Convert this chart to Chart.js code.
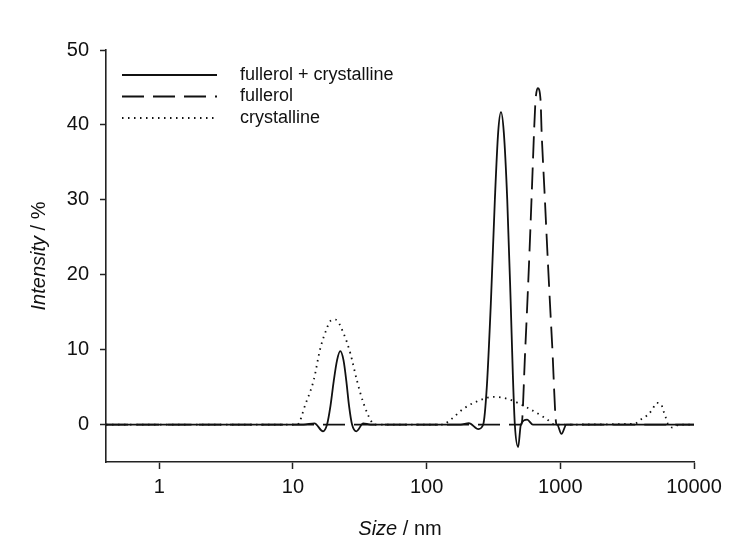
<!DOCTYPE html>
<html>
<head>
<meta charset="utf-8">
<title>Size distribution</title>
<script src="https://cdn.jsdelivr.net/npm/chart.js@4.4.1/dist/chart.umd.min.js"></script>
<style>
  html, body { margin: 0; padding: 0; background: #fff; }
  #wrap { width: 750px; height: 556px; }
</style>
</head>
<body>
<div id="wrap"><canvas id="chart" width="750" height="556"></canvas></div>
<script>
// Values (size in nm, intensity in %)
const mixSize = [0.4, 12, 14.5, 16.8, 18, 19.1, 20.2, 21.4, 22.6, 23.9, 25.1, 26.3, 27.7, 29.8, 33.6, 38,
    180, 207, 244, 265, 282, 303, 324, 343, 360, 378, 401, 425, 442, 457, 484, 507, 565, 623, 946, 1020, 1112, 10000];
const mixIntensity = [0, 0, 0.15, -0.9, 0, 2.5, 5.8, 8.6, 9.8, 8.6, 5.8, 2.5, 0, -0.9, 0.15, 0,
    0, 0.2, -0.6, 0, 5, 16.6, 30, 39, 41.7, 39, 30, 16.6, 6.5, 0, -3.0, 0, 0.65, 0, 0, -1.25, 0, 0];

const fullerolSize = [0.4, 513, 545, 582, 615, 637, 653, 679, 712, 724, 760, 811, 870, 937, 10000];
const fullerolIntensity = [0, 0, 9.5, 21, 32, 39.3, 43.3, 44.9, 43.3, 39.3, 31.5, 21, 10.5, 0, 0];

const crystSize = [0.4, 10.8, 12.4, 14.3, 16.0, 18.0, 19.0, 20.8, 23.9, 26.9, 30.1, 33.8, 39.0, 41,
    130, 155, 188, 273, 315, 408, 559, 789, 910,
    3600, 3990, 4480, 4880, 5230, 5690, 5890, 6130, 6370, 6950, 7800, 10000];
const crystIntensity = [0, 0, 2.7, 5.9, 10.1, 12.9, 13.8, 14.0, 12.2, 9.5, 5.9, 2.8, 0.3, 0,
    0, 0.8, 2.1, 3.5, 3.7, 3.4, 2.3, 0.75, 0,
    0.1, 0.67, 1.25, 2.0, 2.9, 2.7, 1.9, 1.0, 0.1, -0.4, 0, 0];

const seriesLabels = ['fullerol + crystalline', 'fullerol', 'crystalline'];
const xTicks = [1, 10, 100, 1000, 10000];
const yTicks = [0, 10, 20, 30, 40, 50];

const FONT = '"Liberation Sans", Arial, Helvetica, sans-serif';
const INK = '#111';
const AXIS = '#222';

function toPoints(xs, ys) {
    return xs.map(function (x, i) { return { x: x, y: ys[i] }; });
}

function lineSet(label, xs, ys, dash) {
    return {
        label: label,
        data: toPoints(xs, ys),
        borderColor: INK,
        borderWidth: 1.8,
        borderDash: dash,
        pointRadius: 0,
        fill: false,
        cubicInterpolationMode: 'monotone'
    };
}

// draw a string made of italic / upright parts, centred on x
function drawMixed(ctx, parts, x, y, size) {
    let total = 0;
    parts.forEach(function (p) {
        ctx.font = p[0] + ' ' + size + 'px ' + FONT;
        total += ctx.measureText(p[1]).width;
    });
    let cx = x - total / 2;
    parts.forEach(function (p) {
        ctx.font = p[0] + ' ' + size + 'px ' + FONT;
        ctx.fillText(p[1], cx, y);
        cx += ctx.measureText(p[1]).width;
    });
}

const decorations = {
    id: 'decorations',
    afterDraw: function (chart) {
        const ctx = chart.ctx;
        const area = chart.chartArea;
        ctx.save();
        ctx.fillStyle = INK;
        ctx.textAlign = 'left';
        ctx.textBaseline = 'alphabetic';

        // axis titles
        drawMixed(ctx, [['italic', 'Size'], ['normal', ' / nm']], (area.left + area.right) / 2, 535, 20);
        ctx.save();
        ctx.translate(45, (area.top + area.bottom) / 2);
        ctx.rotate(-Math.PI / 2);
        drawMixed(ctx, [['italic', 'Intensity'], ['normal', ' / %']], 0, 0, 20);
        ctx.restore();

        // legend
        ctx.font = '18px ' + FONT;
        ctx.textBaseline = 'middle';
        chart.data.datasets.forEach(function (ds, i) {
            const y = 75 + i * 21.5;
            ctx.strokeStyle = INK;
            ctx.lineWidth = 1.8;
            ctx.setLineDash(ds.borderDash || []);
            ctx.beginPath();
            ctx.moveTo(122, y);
            ctx.lineTo(217, y);
            ctx.stroke();
            ctx.fillText(ds.label, 240, y);
        });
        ctx.restore();
    }
};

new Chart(document.getElementById('chart'), {
    type: 'line',
    data: {
        datasets: [
            lineSet(seriesLabels[0], mixSize, mixIntensity, []),
            lineSet(seriesLabels[1], fullerolSize, fullerolIntensity, [22, 9]),
            lineSet(seriesLabels[2], crystSize, crystIntensity, [1.5, 4.5])
        ]
    },
    options: {
        responsive: false,
        animation: false,
        devicePixelRatio: 1,
        layout: { padding: { left: 0, top: 50, right: 56, bottom: 0 } },
        plugins: {
            legend: { display: false },
            tooltip: { enabled: false }
        },
        scales: {
            x: {
                type: 'logarithmic',
                min: 0.4,
                max: 10000,
                grid: { drawOnChartArea: false, drawTicks: true, tickLength: 7, tickColor: AXIS, tickWidth: 1.5 },
                border: { color: AXIS, width: 1.6 },
                ticks: {
                    font: { family: FONT, size: 20 },
                    color: INK,
                    padding: 6,
                    maxRotation: 0,
                    autoSkip: false,
                    callback: function (v) { return String(v); }
                },
                afterBuildTicks: function (scale) {
                    scale.ticks = xTicks.map(function (v) { return { value: v }; });
                },
                afterFit: function (scale) { scale.height = 94; }
            },
            y: {
                type: 'linear',
                min: -5,
                max: 50,
                grid: { drawOnChartArea: false, drawTicks: true, tickLength: 6, tickColor: AXIS, tickWidth: 1.5 },
                border: { color: AXIS, width: 1.6 },
                ticks: {
                    font: { family: FONT, size: 20 },
                    color: INK,
                    padding: 11
                },
                afterBuildTicks: function (scale) {
                    scale.ticks = yTicks.map(function (v) { return { value: v }; });
                },
                afterFit: function (scale) { scale.width = 106; }
            }
        }
    },
    plugins: [decorations]
});
</script>
</body>
</html>
